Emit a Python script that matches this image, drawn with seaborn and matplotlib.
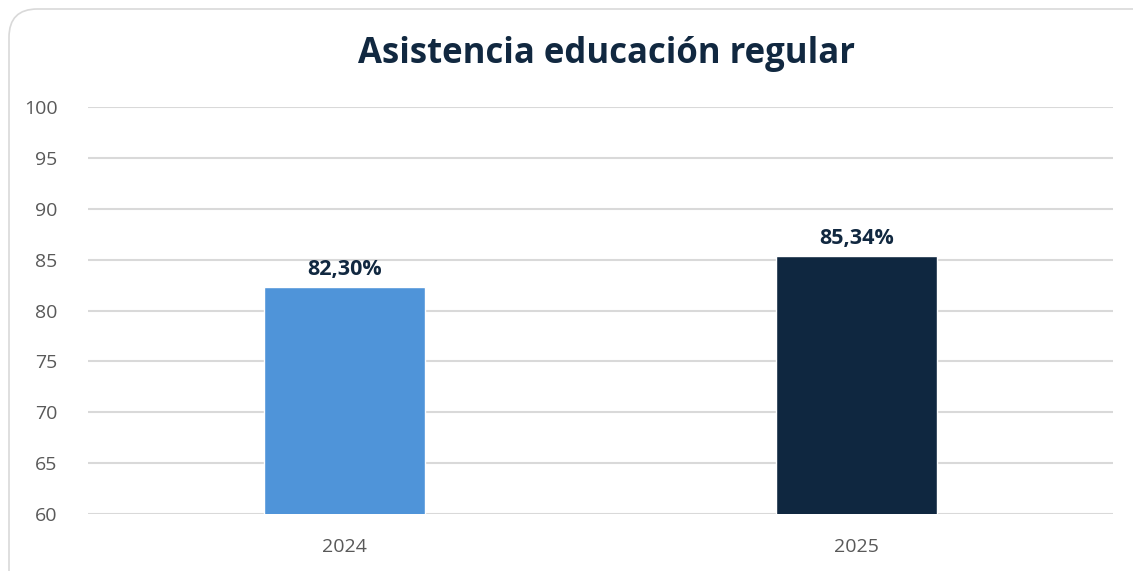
import numpy as np
import pandas as pd
import matplotlib
matplotlib.use("Agg")
import matplotlib.pyplot as plt
from matplotlib.patches import FancyBboxPatch
import seaborn as sns

# data
years = ["2024", "2025"]
attendance = [82.30, 85.34]
bar_labels = ["82,30%", "85,34%"]
bar_colors = ["#4F94D9", "#0F2740"]
y_ticks = [60, 65, 70, 75, 80, 85, 90, 95, 100]

df = pd.DataFrame({"year": years, "value": attendance})

sns.set_style("white")
plt.rcParams['font.family'] = ['Open Sans', 'DejaVu Sans']

fig = plt.figure(figsize=(11.33, 5.71), dpi=100)

# rounded card border (runs off the right and bottom edges)
card = FancyBboxPatch((9 / 1133, -0.2), 1.2, 1 - 9 / 571 + 0.2,
                      boxstyle="round,pad=0,rounding_size=0.025",
                      transform=fig.transFigure, facecolor="none",
                      edgecolor="#D9D9D9", lw=1.2, mutation_aspect=1133 / 571,
                      zorder=-1)
fig.patches.append(card)

ax = fig.add_axes([88 / 1133, 1 - 514 / 571, (1113 - 88) / 1133, (514 - 107) / 571])
ax.patch.set_alpha(0)

sns.barplot(data=df, x="year", y="value", hue="year", palette=bar_colors,
            width=0.314, legend=False, ax=ax, zorder=3, saturation=1)

ax.set_ylim(60, 100)
ax.set_xlim(-0.5, 1.5)
ax.set_yticks(y_ticks)
ax.set_yticklabels([str(t) for t in y_ticks])
ax.grid(axis="y", color="#D9D9D9", lw=1.5, zorder=0)
for s in ax.spines.values():
    s.set_visible(False)
ax.tick_params(axis="both", length=0, labelsize=14, colors="#595959")
ax.tick_params(axis="y", pad=22)
ax.tick_params(axis="x", pad=17)
ax.set_xlabel("")
ax.set_ylabel("")

for i, (v, lab) in enumerate(zip(attendance, bar_labels)):
    ax.annotate(lab, (i, v), xytext=(0, 5), textcoords="offset points",
                ha="center", va="bottom", fontsize=15.5, fontweight="bold",
                color="#112840")

fig.text(0.535, 1 - 54 / 571, "Asistencia educación regular", ha="center",
         va="center", fontsize=25, fontweight="bold", color="#112840")

fig.savefig("out.png", dpi=100)
